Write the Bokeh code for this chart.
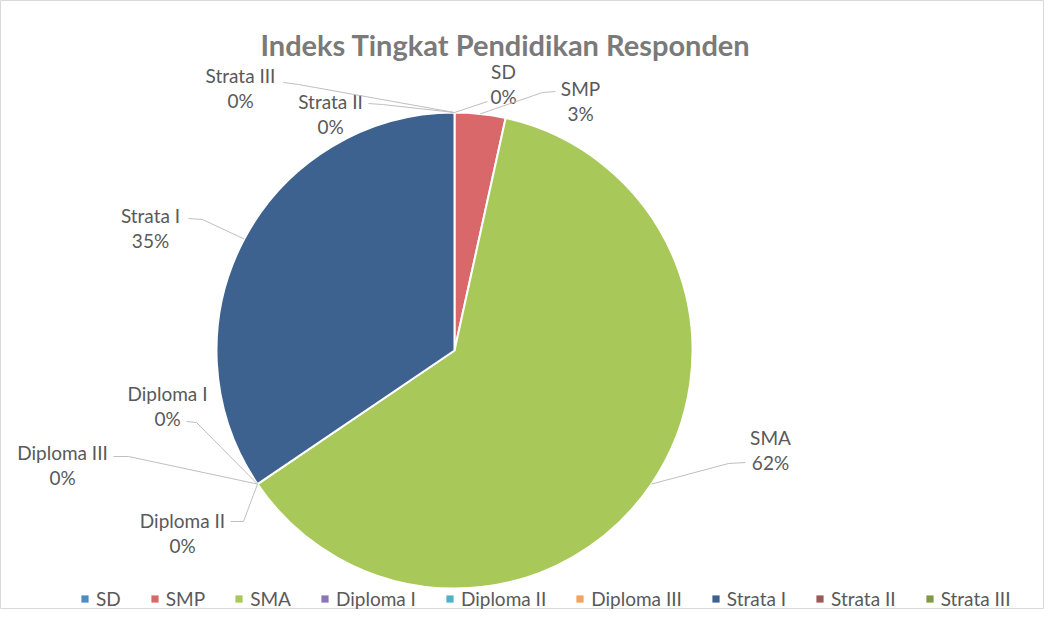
import numpy as np
from bokeh.plotting import figure
from bokeh.models import Legend, LegendItem, Range1d
from bokeh.core.properties import value
from bokeh.embed import file_html
from bokeh.resources import INLINE

# ---------------- data ----------------
title_text = "Indeks Tingkat Pendidikan Responden"
categories = ["SD", "SMP", "SMA", "Diploma I", "Diploma II", "Diploma III",
              "Strata I", "Strata II", "Strata III"]
counts = [0, 1, 18, 0, 0, 0, 10, 0, 0]
pct_labels = ["0%", "3%", "62%", "0%", "0%", "0%", "35%", "0%", "0%"]
colors = ["#4A8CC4", "#D9686A", "#A8C85A", "#8B74B8", "#4DB3C9", "#F5A25D",
          "#3E6290", "#9A5A58", "#7E9A45"]

# ---------------- layout (page pixel coords) ----------------
W, H = 1044, 609
def fx(x): return x
def fy(y): return H - y

CX, CY, R = 454, 350, 238           # pie centre / radius on the page
label_pos = {
    "SD": (503, 71), "SMP": (580, 88), "SMA": (770, 437),
    "Diploma I": (167, 393), "Diploma II": (182, 520), "Diploma III": (62, 452),
    "Strata I": (150, 215), "Strata II": (330, 101), "Strata III": (240, 75),
}
leader_start = {
    "SD": [(487, 101)], "SMP": [(555, 91), (542, 92)], "SMA": [(745, 462), (728, 463)],
    "Diploma I": [(186, 421), (196, 422)], "Diploma II": [(230, 521), (243, 521)],
    "Diploma III": [(113, 456), (128, 456)], "Strata I": [(188, 218), (202, 219)],
    "Strata II": [(368, 103), (382, 104)], "Strata III": [(283, 82), (298, 84)],
}

p = figure(width=W, height=H, output_backend="svg", toolbar_location=None,
           x_range=Range1d(0, W), y_range=Range1d(0, H), min_border=0)
p.axis.visible = False
p.grid.visible = False
p.outline_line_color = "#d9d9d9"
p.background_fill_color = "white"
p.border_fill_color = "white"

vals = np.array(counts, dtype=float)
frac = vals / vals.sum()
cum_end = np.cumsum(frac)
cum_start = cum_end - frac

items = []
for i, cat in enumerate(categories):
    if vals[i] > 0:
        start = np.pi / 2 - 2 * np.pi * cum_end[i]
        end = np.pi / 2 - 2 * np.pi * cum_start[i]
        p.wedge(x=fx(CX), y=fy(CY), radius=R, start_angle=start, end_angle=end,
                fill_color=colors[i], line_color="white", line_width=2)
    lr = p.rect(x=[np.nan], y=[np.nan], width=1, height=1,
                fill_color=colors[i], line_color=None)
    items.append(LegendItem(label=cat, renderers=[lr]))

# leader lines and labels
for i, cat in enumerate(categories):
    mid = 2 * np.pi * (cum_start[i] + cum_end[i]) / 2
    ax = CX + R * np.sin(mid)
    ay = CY - R * np.cos(mid)
    pts = leader_start[cat] + [(ax, ay)]
    p.line([fx(x) for x, y in pts], [fy(y) for x, y in pts],
           line_color="#bfbfbf", line_width=1)
    lx, ly = label_pos[cat]
    p.text(x=[fx(lx), fx(lx)], y=[fy(ly), fy(ly + 25)], text=[cat, pct_labels[i]],
           text_align="center", text_baseline="middle",
           text_font=value("Lato"), text_font_size="19px", text_color="#595959")

p.text(x=[fx(505)], y=[fy(44)], text=[title_text], text_align="center",
       text_baseline="middle", text_font=value("Lato"), text_font_size="29px",
       text_font_style="bold", text_color="#7a7a7a")

legend = Legend(items=items, orientation="horizontal", location=(80, -1),
                padding=0, margin=0, spacing=29, label_standoff=7,
                glyph_width=9, glyph_height=9, label_text_font="Lato",
                label_text_font_size="19px", label_text_color="#595959",
                background_fill_alpha=0, border_line_alpha=0)
p.add_layout(legend, "center")

open("out.html", "w").write(file_html(p, INLINE))
